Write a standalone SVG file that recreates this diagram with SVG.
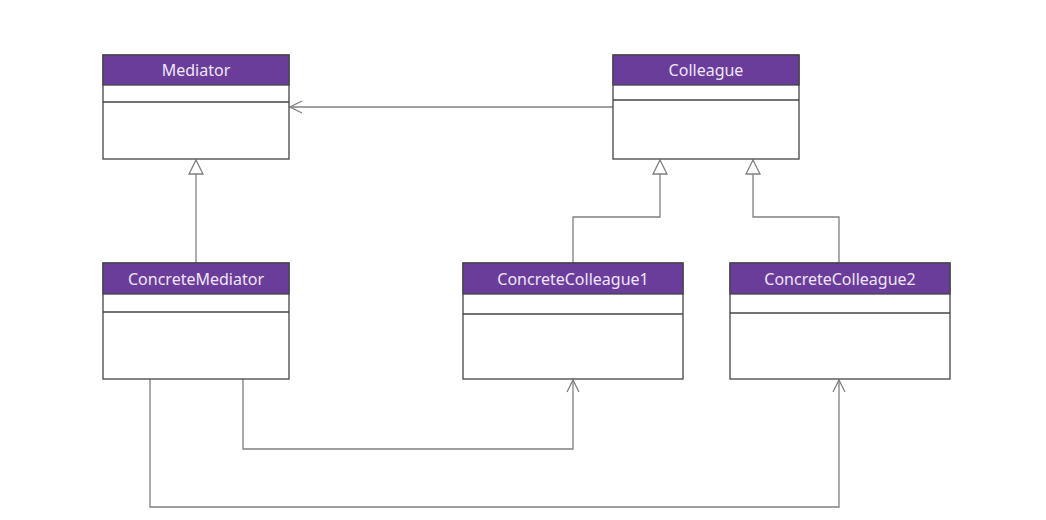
<svg xmlns="http://www.w3.org/2000/svg" width="1046" height="520" viewBox="0 0 1046 520">
<style>
.box{fill:#fff;stroke:#444;stroke-width:1.3}
.hdr{fill:#6a3d9a;stroke:#444;stroke-width:1.3}
.div{stroke:#444;stroke-width:1.3}
.t{font-family:"Noto Sans","Open Sans",sans-serif;font-size:16px;fill:#efe6f7;text-anchor:middle}
.c{fill:none;stroke:#808080;stroke-width:1.3}
</style>
<defs>
<marker id="open" markerWidth="14" markerHeight="14" refX="13" refY="7" orient="auto" markerUnits="userSpaceOnUse">
<path d="M1,1 L13,7 L1,13" fill="none" stroke="#808080" stroke-width="1.3"/>
</marker>
<marker id="tri" markerWidth="16" markerHeight="18" refX="15" refY="8" orient="auto" markerUnits="userSpaceOnUse">
<path d="M1,1 L15,8 L1,15 Z" fill="#fff" stroke="#808080" stroke-width="1.3"/>
</marker>
</defs>
<rect width="1046" height="520" fill="#fff"/>
<g id="connectors">
<path class="c" d="M613,107 L290,107" marker-end="url(#open)"/>
<path class="c" d="M196,263 L196,160" marker-end="url(#tri)"/>
<path class="c" d="M573,263 L573,217 L660,217 L660,160" marker-end="url(#tri)"/>
<path class="c" d="M839,263 L839,217 L753,217 L753,160" marker-end="url(#tri)"/>
<path class="c" d="M243,379 L243,449 L573,449 L573,380" marker-end="url(#open)"/>
<path class="c" d="M150,379 L150,507 L839,507 L839,380" marker-end="url(#open)"/>
</g>
<g id="Mediator">
<rect class="box" x="103" y="55" width="186" height="104"/>
<rect class="hdr" x="103" y="55" width="186" height="30"/>
<line class="div" x1="103" y1="102" x2="289" y2="102"/>
<text class="t" x="196" y="75.5">Mediator</text>
</g>
<g id="Colleague">
<rect class="box" x="613" y="55" width="186" height="104"/>
<rect class="hdr" x="613" y="55" width="186" height="30"/>
<line class="div" x1="613" y1="100" x2="799" y2="100"/>
<text class="t" x="706" y="75.5">Colleague</text>
</g>
<g id="ConcreteMediator">
<rect class="box" x="103" y="263" width="186" height="116"/>
<rect class="hdr" x="103" y="263" width="186" height="31"/>
<line class="div" x1="103" y1="312" x2="289" y2="312"/>
<text class="t" x="196" y="284.5">ConcreteMediator</text>
</g>
<g id="ConcreteColleague1">
<rect class="box" x="463" y="263" width="220" height="116"/>
<rect class="hdr" x="463" y="263" width="220" height="31"/>
<line class="div" x1="463" y1="314" x2="683" y2="314"/>
<text class="t" x="573" y="284.5">ConcreteColleague1</text>
</g>
<g id="ConcreteColleague2">
<rect class="box" x="730" y="263" width="220" height="116"/>
<rect class="hdr" x="730" y="263" width="220" height="31"/>
<line class="div" x1="730" y1="313" x2="950" y2="313"/>
<text class="t" x="840" y="284.5">ConcreteColleague2</text>
</g>
</svg>
